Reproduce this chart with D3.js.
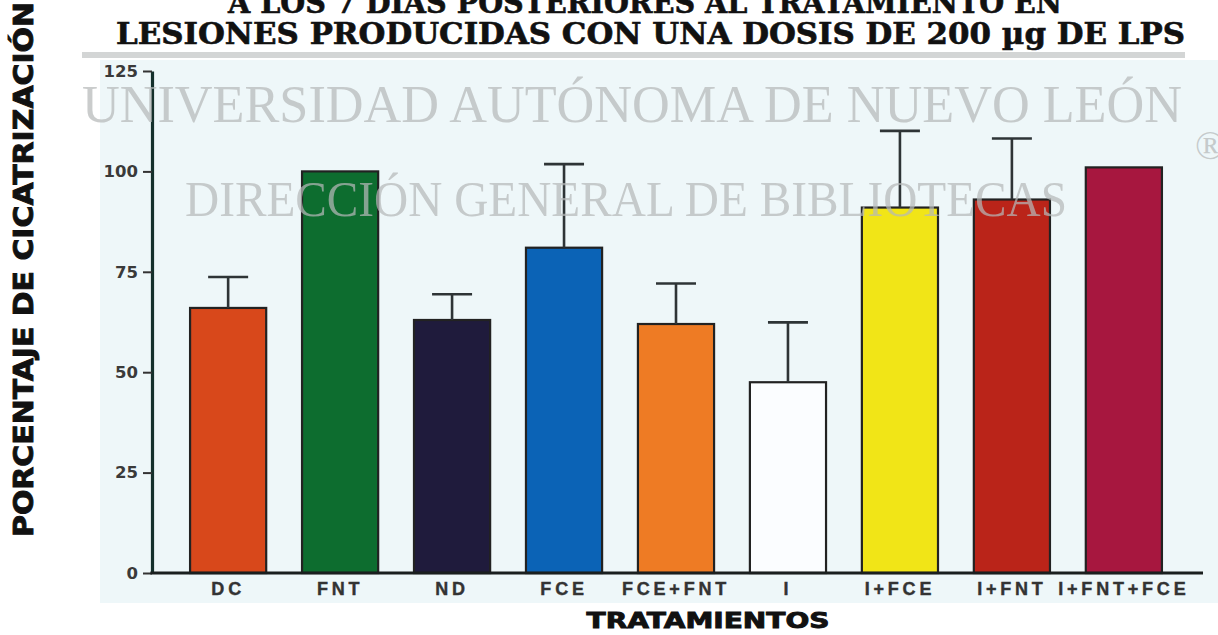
<!DOCTYPE html>
<html>
<head>
<meta charset="utf-8">
<script src="https://cdn.jsdelivr.net/npm/d3@7"></script>
<style>
  html, body { margin: 0; padding: 0; background: #ffffff; }
  svg { display: block; }
</style>
</head>
<body>
<svg id="chart" width="1218" height="635"></svg>
<script>
// ---- data ----
const categories = ["DC", "FNT", "ND", "FCE", "FCE+FNT", "I", "I+FCE", "I+FNT", "I+FNT+FCE"];
const values     = [66, 100, 63, 81, 62, 47.5, 91, 93, 101];
const errors     = [7.7, 0, 6.4, 20.8, 10.1, 14.9, 19.1, 15.2, 0];
const barColors  = ["#d8481b", "#0d6d2f", "#1f1b3c", "#0b63b6", "#ee7b24", "#fbfdff", "#f1e517", "#ba2419", "#a7173f"];
const yTicks     = [0, 25, 50, 75, 100, 125];
const titleLines = ["A LOS 7 DIAS POSTERIORES AL TRATAMIENTO EN", "LESIONES PRODUCIDAS CON UNA DOSIS DE 200 µg DE LPS"];
const yTitle = "PORCENTAJE DE CICATRIZACIÓN";
const xTitle = "TRATAMIENTOS";
const watermark = ["UNIVERSIDAD AUTÓNOMA DE NUEVO LEÓN", "DIRECCIÓN GENERAL DE BIBLIOTECAS"];

const svg = d3.select("#chart");

// background tint of scanned page
svg.append("rect").attr("x", 100).attr("y", 60).attr("width", 1118).attr("height", 543).attr("fill", "#eef7f9");
// gray rule under title
svg.append("rect").attr("x", 82).attr("y", 52).attr("width", 1103).attr("height", 6).attr("fill", "#d3d5d5");

const x = d3.scaleBand().domain(categories).range([152, 1200]).paddingInner(0.32).paddingOuter(0.34);
const y = d3.scaleLinear().domain([0, 125]).range([573, 71]);

// title
const tTitle = svg.append("g").attr("font-family", "'DejaVu Serif', serif").attr("font-weight", "bold")
  .attr("fill", "#111").attr("stroke", "#111").attr("stroke-width", 0.6);
tTitle.append("text").attr("x", 228).attr("y", 13).attr("font-size", 29)
  .attr("textLength", 834).attr("lengthAdjust", "spacingAndGlyphs").text(titleLines[0]);
tTitle.append("text").attr("x", 116).attr("y", 44).attr("font-size", 29)
  .attr("textLength", 1069).attr("lengthAdjust", "spacingAndGlyphs").text(titleLines[1]);

// bars
const data = categories.map((c, i) => ({c, v: values[i], e: errors[i], col: barColors[i]}));
svg.append("g").selectAll("rect").data(data).join("rect")
  .attr("x", d => x(d.c)).attr("width", x.bandwidth())
  .attr("y", d => y(d.v)).attr("height", d => y(0) - y(d.v))
  .attr("fill", d => d.col).attr("stroke", "#222").attr("stroke-width", 2.2);

// error bars (upper only)
const eb = svg.append("g").attr("stroke", "#2e3436").attr("stroke-width", 2.6);
data.filter(d => d.e > 0).forEach(d => {
  const cx = x(d.c) + x.bandwidth() / 2;
  eb.append("line").attr("x1", cx).attr("x2", cx).attr("y1", y(d.v)).attr("y2", y(d.v + d.e));
  eb.append("line").attr("x1", cx - 20).attr("x2", cx + 20).attr("y1", y(d.v + d.e)).attr("y2", y(d.v + d.e));
});

// y axis
const yAxis = svg.append("g").attr("transform", "translate(152,0)")
  .call(d3.axisLeft(y).tickValues(yTicks).tickSize(9).tickPadding(5).tickSizeOuter(0));
yAxis.select(".domain").attr("stroke", "#14302c").attr("stroke-width", 3.2);
yAxis.selectAll(".tick line").attr("stroke", "#333").attr("stroke-width", 2);
yAxis.selectAll(".tick text").attr("font-family", "'DejaVu Sans', sans-serif")
  .attr("font-weight", "bold").attr("font-size", 16.5).attr("fill", "#3a3a3a");

// x axis
const xAxis = svg.append("g").attr("transform", "translate(0,573)")
  .call(d3.axisBottom(x).tickSize(0).tickPadding(9).tickSizeOuter(0));
xAxis.select(".domain").attr("stroke", "#1a1f1f").attr("stroke-width", 3.2)
  .attr("d", "M150.4,0H1203");
xAxis.selectAll(".tick text").attr("font-family", "'Liberation Sans', Arial, sans-serif")
  .attr("font-weight", "bold").attr("font-size", 18).attr("fill", "#333")
  .attr("stroke", "#333").attr("stroke-width", 0.4)
  .attr("letter-spacing", 3.8).attr("dy", "0.71em");

// axis titles
svg.append("text").attr("x", 708).attr("y", 628).attr("text-anchor", "middle")
  .attr("font-family", "'DejaVu Sans', sans-serif").attr("font-weight", "bold").attr("font-size", 21)
  .attr("stroke", "#111").attr("stroke-width", 0.9)
  .attr("textLength", 243).attr("lengthAdjust", "spacingAndGlyphs").attr("fill", "#111").text(xTitle);
svg.append("text").attr("transform", "translate(33,537) rotate(-90)")
  .attr("font-family", "'DejaVu Sans', sans-serif").attr("font-weight", "bold").attr("font-size", 27)
  .attr("stroke", "#111").attr("stroke-width", 0.9)
  .attr("textLength", 535).attr("lengthAdjust", "spacingAndGlyphs").attr("fill", "#111").text(yTitle);

// watermark overlay
const wm = svg.append("g").attr("font-family", "'Liberation Serif', 'Times New Roman', serif")
  .attr("fill", "#b5b9b9").attr("fill-opacity", 0.72);
wm.append("text").attr("x", 82).attr("y", 122).attr("font-size", 52)
  .attr("textLength", 1100).attr("lengthAdjust", "spacingAndGlyphs").text(watermark[0]);
wm.append("text").attr("x", 185).attr("y", 216).attr("font-size", 51)
  .attr("textLength", 882).attr("lengthAdjust", "spacingAndGlyphs").text(watermark[1]);
wm.append("text").attr("x", 1195).attr("y", 159).attr("font-size", 40).text("®");
</script>
</body>
</html>
